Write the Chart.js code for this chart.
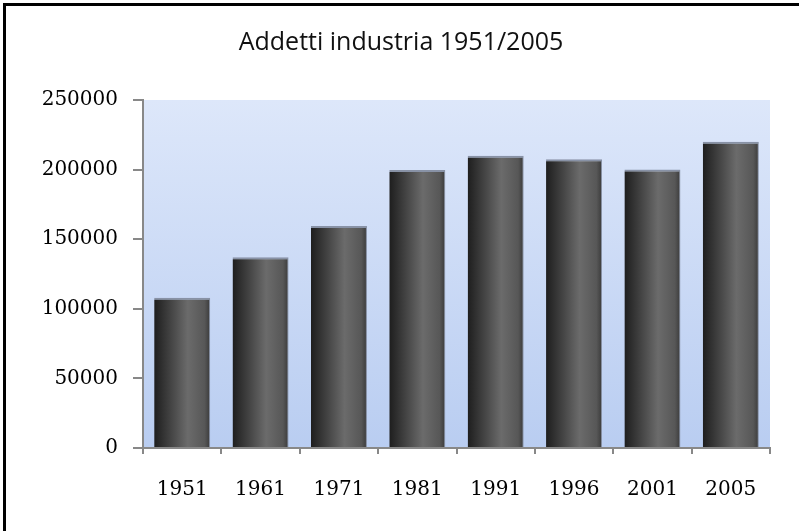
<!DOCTYPE html>
<html>
<head>
<meta charset="utf-8">
<script src="https://cdn.jsdelivr.net/npm/chart.js@4/dist/chart.umd.min.js"></script>
<style>
  html, body { margin: 0; padding: 0; background: #fff; }
  #wrap { position: relative; width: 799px; height: 531px; overflow: hidden; }
  #frame { position: absolute; left: 3px; top: 3px; width: 900px; height: 700px;
           border: 3px solid #000; pointer-events: none; }
</style>
</head>
<body>
<div id="wrap">
  <canvas id="chart" width="799" height="531"></canvas>
  <div id="frame"></div>
</div>
<script>
const years = ['1951','1961','1971','1981','1991','1996','2001','2005'];
const addetti = [108000, 137000, 159500, 199700, 210000, 207500, 200000, 220000];
const yTicks = [0, 50000, 100000, 150000, 200000, 250000];

/* sfondo sfumato dell'area del grafico */
const plotBg = {
  id: 'plotBg',
  beforeDraw(chart) {
    const { ctx, chartArea: a } = chart;
    const g = ctx.createLinearGradient(0, a.top, 0, a.bottom);
    g.addColorStop(0, '#dde7fa');
    g.addColorStop(1, '#b9cdf1');
    ctx.save();
    ctx.fillStyle = g;
    ctx.fillRect(a.left, a.top, a.right - a.left, a.bottom - a.top);
    ctx.restore();
  }
};

/* sfumatura orizzontale dei cilindri */
function barFill(c) {
  const chart = c.chart;
  const xs = chart.scales.x;
  if (!xs || c.dataIndex === undefined) return '#444';
  const cx = xs.getPixelForValue(c.dataIndex);
  const half = (xs.width / years.length) * 0.715 / 2;
  if (!isFinite(cx) || !isFinite(half) || half <= 0) return '#444';
  const g = chart.ctx.createLinearGradient(cx - half, 0, cx + half, 0);
  g.addColorStop(0, '#1e1e1e');
  g.addColorStop(0.3, '#444444');
  g.addColorStop(0.6, '#6b6b6b');
  g.addColorStop(0.9, '#575757');
  g.addColorStop(1, '#3a3a3a');
  return g;
}

new Chart(document.getElementById('chart'), {
  type: 'bar',
  data: {
    labels: years,
    datasets: [{
      data: addetti,
      backgroundColor: barFill,
      borderColor: '#8892a6',
      borderWidth: { top: 2, left: 0, right: 1, bottom: 0 },
      borderSkipped: 'bottom',
      barPercentage: 0.715,
      categoryPercentage: 1
    }]
  },
  options: {
    responsive: false,
    animation: false,
    layout: { padding: { left: 32, right: 29, top: 0, bottom: 0 } },
    plugins: {
      legend: { display: false },
      tooltip: { enabled: false },
      title: {
        display: true,
        text: 'Addetti industria 1951/2005',
        color: '#111',
        font: { family: 'Open Sans', size: 25, weight: 'normal' },
        padding: { top: 28, bottom: 42 }
      }
    },
    scales: {
      x: {
        afterFit(s) { s.height = 83; },
        grid: { drawOnChartArea: false, drawTicks: true, tickLength: 6, color: '#888', lineWidth: 2 },
        border: { color: '#888', width: 2 },
        ticks: {
          color: '#000',
          padding: 24,
          font: { family: 'DejaVu Serif', size: 20 }
        }
      },
      y: {
        min: 0,
        max: 250000,
        afterFit(s) { s.width = 111; },
        afterBuildTicks(s) { s.ticks = yTicks.map(v => ({ value: v })); },
        grid: { drawOnChartArea: false, drawTicks: true, tickLength: 10, color: '#888', lineWidth: 2 },
        border: { color: '#888', width: 2 },
        ticks: {
          color: '#000',
          padding: 15,
          font: { family: 'DejaVu Serif', size: 20 },
          callback: v => String(v)
        }
      }
    }
  },
  plugins: [plotBg]
});
</script>
</body>
</html>
